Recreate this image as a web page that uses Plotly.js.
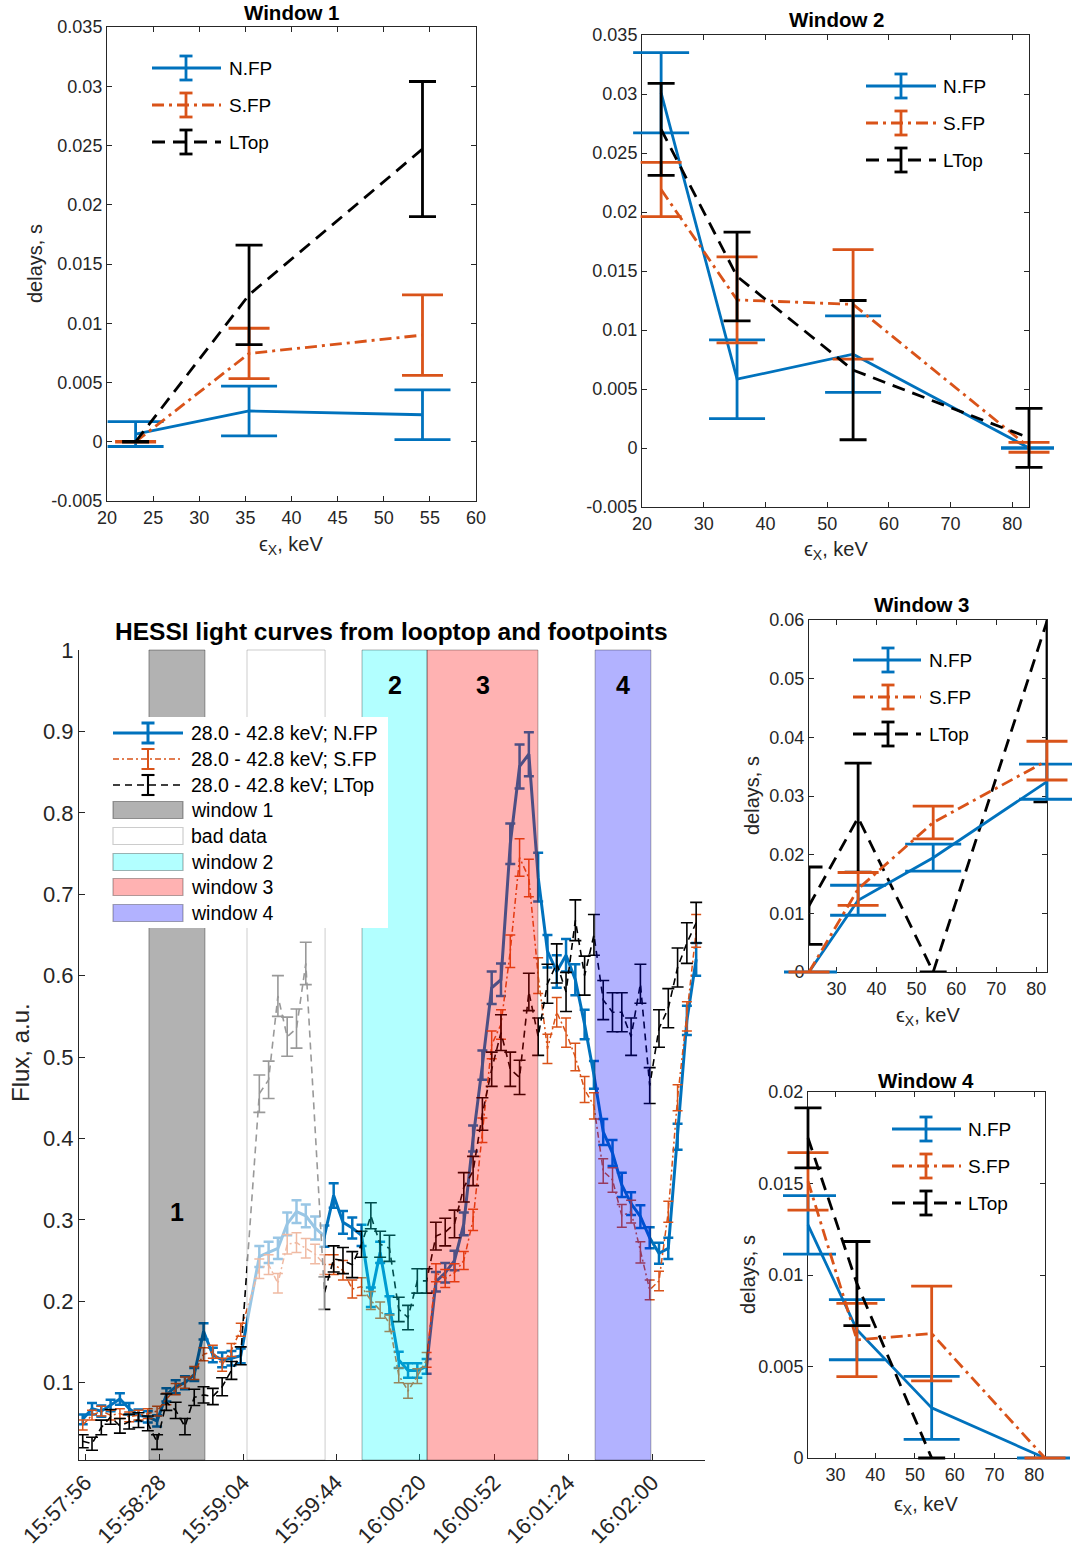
<!DOCTYPE html>
<html>
<head>
<meta charset="utf-8">
<script src="https://cdn.plot.ly/plotly-3.0.1.min.js"></script>
<style>
  html, body { margin: 0; padding: 0; background: #ffffff; }
  #chart { width: 1075px; height: 1548px; }
</style>
</head>
<body>
<div id="chart"></div>
<script>
// ---------------- delay spectra (seconds) per energy band ----------------
const energies = [23.1, 35.4, 54.2, 82.7];

const w1NFP     = [0.00065, 0.0026, 0.00228];
const w1NFPErr  = [0.00105, 0.0021, 0.0021];
const w1SFP     = [0, 0.00745, 0.0090];
const w1SFPErr  = [0.00002, 0.00213, 0.0034];
const w1LTop    = [0, 0.0124, 0.0247];
const w1LTopErr = [0.00002, 0.0042, 0.0057];

const w2NFP     = [0.0301, 0.00583, 0.00795, 0];
const w2NFPErr  = [0.0034, 0.00334, 0.00324, 0.00002];
const w2SFP     = [0.0219, 0.01255, 0.01217, 0.00006];
const w2SFPErr  = [0.0023, 0.00364, 0.00464, 0.00042];
const w2LTop    = [0.0270, 0.01454, 0.0066, 0.00086];
const w2LTopErr = [0.0039, 0.00376, 0.0059, 0.0025];

const w3NFP     = [0, 0.01223, 0.01948, 0.03245];
const w3NFPErr  = [0.00002, 0.00256, 0.0023, 0.0030];
const w3SFP     = [0, 0.01416, 0.02548, 0.03603];
const w3SFPErr  = [0.00002, 0.0028, 0.0028, 0.0033];
const w3LTop    = [0.0113, 0.0263, 0, 0.0598];
const w3LTopErr = [0.0066, 0.0093, 0.00002, 0.0308];

const w4NFP     = [0.01274, 0.00701, 0.00274, 0];
const w4NFPErr  = [0.0016, 0.00164, 0.00172, 0.00001];
const w4SFP     = [0.01512, 0.00645, 0.0068, 0];
const w4SFPErr  = [0.00157, 0.0020, 0.00259, 0.00001];
const w4LTop    = [0.01749, 0.00953, 0, null];
const w4LTopErr = [0.00164, 0.0023, 0.00001, null];

// ---------------- HESSI light curves, 28.0 - 42.8 keV ----------------
const times = [
  '15:57:55','15:57:59','15:58:03','15:58:07','15:58:11','15:58:15','15:58:19','15:58:23','15:58:27','15:58:31',
  '15:58:35','15:58:39','15:58:43','15:58:47','15:58:51','15:58:55','15:58:59','15:59:03','15:59:07','15:59:11',
  '15:59:15','15:59:19','15:59:23','15:59:27','15:59:31','15:59:35','15:59:39','15:59:43','15:59:47','15:59:51',
  '15:59:55','15:59:59','16:00:03','16:00:07','16:00:11','16:00:15','16:00:19','16:00:23','16:00:27','16:00:31',
  '16:00:35','16:00:39','16:00:43','16:00:47','16:00:51','16:00:55','16:00:59','16:01:03','16:01:07','16:01:11',
  '16:01:15','16:01:19','16:01:23','16:01:27','16:01:31','16:01:35','16:01:39','16:01:43','16:01:47','16:01:51',
  '16:01:55','16:01:59','16:02:03','16:02:07','16:02:11','16:02:15','16:02:19'
];
const fluxNFP = [
  0.055,0.068,0.065,0.072,0.080,0.068,0.060,0.058,0.053,0.085,
  0.095,0.100,0.110,0.163,0.134,0.128,0.130,0.133,null,0.255,
  0.260,0.265,0.295,0.310,0.305,0.290,0.280,0.330,0.297,0.290,
  0.281,0.205,0.260,0.195,0.128,0.115,0.115,0.120,0.224,0.235,
  0.250,0.295,0.400,0.490,0.585,0.595,0.762,0.857,0.872,0.721,
  0.630,0.605,0.625,0.595,0.540,0.478,0.408,0.382,0.343,0.320,
  0.304,0.278,0.259,0.265,0.402,0.545,0.620
];
const fluxNFPErr = [
  0.006,0.007,0.007,0.007,0.007,0.007,0.007,0.007,0.007,0.008,
  0.008,0.008,0.008,0.010,0.009,0.009,0.009,0.009,null,0.013,
  0.013,0.013,0.014,0.014,0.014,0.014,0.013,0.015,0.014,0.013,
  0.013,0.012,0.013,0.011,0.010,0.009,0.009,0.009,0.012,0.012,
  0.012,0.014,0.016,0.018,0.020,0.020,0.025,0.027,0.027,0.030,
  0.020,0.020,0.020,0.019,0.018,0.017,0.016,0.016,0.015,0.014,
  0.014,0.013,0.013,0.013,0.016,0.018,0.020
];
const fluxSFP = [
  0.048,0.060,0.065,0.060,0.062,0.058,0.060,0.062,0.065,0.080,
  0.092,0.100,0.112,0.135,0.138,0.122,0.140,0.165,null,0.240,
  0.245,0.222,0.270,0.272,0.265,0.258,0.245,0.245,0.238,0.215,
  0.218,0.201,0.189,0.173,0.109,0.090,0.108,0.128,0.235,0.228,
  0.235,0.250,0.300,0.410,0.515,0.540,0.630,0.745,0.720,0.600,
  0.510,0.555,0.530,0.500,0.460,0.440,0.360,0.349,0.305,0.310,
  0.260,0.214,0.225,0.310,0.450,0.550,0.655
];
const fluxSFPErr = [
  0.006,0.006,0.006,0.006,0.006,0.006,0.006,0.006,0.006,0.007,
  0.007,0.007,0.008,0.008,0.008,0.008,0.008,0.008,null,0.012,
  0.012,0.012,0.012,0.012,0.012,0.012,0.012,0.012,0.012,0.011,
  0.011,0.011,0.010,0.010,0.009,0.009,0.009,0.009,0.011,0.011,
  0.011,0.011,0.013,0.015,0.017,0.018,0.020,0.023,0.023,0.022,
  0.018,0.018,0.018,0.017,0.016,0.016,0.015,0.015,0.014,0.014,
  0.013,0.012,0.012,0.013,0.016,0.018,0.020
];
const fluxLTop = [
  0.028,0.025,0.045,0.058,0.047,0.052,0.054,0.050,0.027,0.076,
  0.066,0.046,0.082,0.085,0.083,0.095,0.115,0.133,null,0.455,
  0.472,0.575,0.525,0.535,0.615,null,0.210,0.252,0.250,0.245,
  0.270,0.305,0.270,0.265,0.190,0.180,0.225,0.225,0.280,0.285,
  0.295,0.340,0.360,0.430,0.485,0.530,0.485,0.475,0.580,0.525,
  0.590,0.615,0.580,0.668,0.600,0.650,0.570,0.555,0.555,0.525,
  0.590,0.465,0.535,0.560,0.610,0.640,0.665
];
const fluxLTopErr = [
  0.008,0.008,0.009,0.009,0.009,0.009,0.009,0.009,0.009,0.010,
  0.010,0.010,0.010,0.010,0.010,0.011,0.011,0.011,null,0.023,
  0.023,0.025,0.024,0.024,0.026,null,0.020,0.016,0.016,0.016,
  0.016,0.016,0.016,0.016,0.015,0.015,0.015,0.015,0.017,0.017,
  0.017,0.018,0.018,0.020,0.021,0.022,0.021,0.021,0.023,0.023,
  0.024,0.024,0.024,0.025,0.024,0.025,0.024,0.024,0.024,0.023,
  0.024,0.022,0.023,0.024,0.024,0.025,0.025
];
const seriesLabels = ['28.0 - 42.8 keV; N.FP', '28.0 - 42.8 keV; S.FP', '28.0 - 42.8 keV; LTop'];

// time intervals used for the delay analysis
const windowNames  = ['window 1', 'bad data', 'window 2', 'window 3', 'window 4'];
const windowTags   = ['1', '', '2', '3', '4'];
const windowStart  = ['15:58:23.5', '15:59:05.7', '15:59:55.2', '16:00:23.2', '16:01:35.5'];
const windowEnd    = ['15:58:47.6', '15:59:39.3', '16:00:23.2', '16:01:10.9', '16:01:59.5'];

const timeTicks = ['15:57:56', '15:58:28', '15:59:04', '15:59:44', '16:00:20', '16:00:52', '16:01:24', '16:02:00'];
const timeRange = ['15:57:53.4', '16:02:22.8'];

// ---------------- helpers ----------------
const FONT = 'Liberation Sans, Arial, Helvetica, sans-serif';
const INK = '#262626';
const W = 1075, H = 1548;
const X = p => p / W;          // page pixel -> paper x
const Y = p => 1 - p / H;      // page pixel -> paper y
const secs = s => { const [h, m, sec] = s.split(':'); return (+h) * 3600 + (+m) * 60 + parseFloat(sec); };

const shapes = [];
const annotations = [];

function seg(x0, y0, x1, y1, color, width, dash) {
  shapes.push({ type: 'line', xref: 'paper', yref: 'paper', layer: 'above',
    x0: X(x0), y0: Y(y0), x1: X(x1), y1: Y(y1),
    line: { color: color, width: width, dash: dash || 'solid' } });
}
function box(x0, y0, x1, y1, fill, edge, ew) {
  shapes.push({ type: 'rect', xref: 'paper', yref: 'paper', layer: 'above',
    x0: X(x0), y0: Y(y1), x1: X(x1), y1: Y(y0),
    fillcolor: fill, line: { color: edge, width: ew } });
}
function label(x, y, str, size, extra) {
  annotations.push(Object.assign({ xref: 'paper', yref: 'paper', x: X(x), y: Y(y), text: str,
    showarrow: false, xanchor: 'center', yanchor: 'middle',
    font: { family: FONT, size: size, color: INK } }, extra || {}));
}
function errGlyph(xc, y, half, cap, color, width) {
  seg(xc, y - half, xc, y + half, color, width);
  seg(xc - cap, y - half, xc + cap, y - half, color, width);
  seg(xc - cap, y + half, xc + cap, y + half, color, width);
}

// ---------------- axes ----------------
function boxAxis(extra) {
  return Object.assign({ showline: true, mirror: 'ticks', linecolor: INK, linewidth: 1,
    ticks: 'inside', ticklen: 5, tickwidth: 1, tickcolor: INK,
    showgrid: false, zeroline: false, fixedrange: true,
    tickfont: { family: FONT, size: 18, color: INK } }, extra);
}
const num = v => String(v);

const w1x = [20, 25, 30, 35, 40, 45, 50, 55, 60];
const w2x = [20, 30, 40, 50, 60, 70, 80];
const w34x = [30, 40, 50, 60, 70, 80];
const w12y = [-0.005, 0, 0.005, 0.01, 0.015, 0.02, 0.025, 0.03, 0.035];
const w3y = [0, 0.01, 0.02, 0.03, 0.04, 0.05, 0.06];
const w4y = [0, 0.005, 0.01, 0.015, 0.02];
const fluxTicks = [0.1, 0.2, 0.3, 0.4, 0.5, 0.6, 0.7, 0.8, 0.9, 1];

// delay panels: page-pixel box [left, right, top, bottom], axis ranges, ticks
const panels = [
  { id: '',  box: [107, 476, 27, 501],   xr: [20, 60],     yr: [-0.005, 0.035], xt: w1x,  yt: w12y },
  { id: '2', box: [642, 1029, 35, 507],  xr: [20, 82.7],   yr: [-0.005, 0.035], xt: w2x,  yt: w12y },
  { id: '4', box: [809, 1047, 620, 972], xr: [23.1, 82.7], yr: [0, 0.06],       xt: w34x, yt: w3y },
  { id: '5', box: [808, 1045, 1092, 1458], xr: [23.1, 82.7], yr: [0, 0.02],     xt: w34x, yt: w4y }
];
const overlayIds = ['6', '7', '8', '9'];
const PAD = 25;   // room for error-bar caps that stick out of a panel

const layout = {
  width: W, height: H, margin: { l: 0, r: 0, t: 0, b: 0 },
  paper_bgcolor: '#ffffff', plot_bgcolor: 'rgba(0,0,0,0)', showlegend: false,
  font: { family: FONT, color: INK },
  xaxis3: { domain: [X(79), X(705)], range: timeRange.map(secs), anchor: 'y3',
    tickvals: timeTicks.map(secs), ticktext: timeTicks, tickangle: -45,
    showline: true, mirror: false, linecolor: INK, linewidth: 1, ticks: 'inside', ticklen: 6, tickcolor: INK,
    showgrid: false, zeroline: false, fixedrange: true,
    tickfont: { family: FONT, size: 22, color: INK } },
  yaxis3: { domain: [Y(1460), Y(650)], range: [0.005, 1], anchor: 'x3',
    tickvals: fluxTicks, ticktext: fluxTicks.map(num),
    showline: true, mirror: false, linecolor: INK, linewidth: 1, ticks: 'inside', ticklen: 6, tickcolor: INK,
    showgrid: false, zeroline: false, fixedrange: true,
    tickfont: { family: FONT, size: 22, color: INK } },
  shapes: shapes,
  annotations: annotations
};

panels.forEach((p, k) => {
  const [l, r, t, b] = p.box;
  layout['xaxis' + p.id] = boxAxis({ domain: [X(l), X(r)], range: p.xr, tickvals: p.xt, ticktext: p.xt.map(num), anchor: 'y' + p.id });
  layout['yaxis' + p.id] = boxAxis({ domain: [Y(b), Y(t)], range: p.yr, tickvals: p.yt, ticktext: p.yt.map(num), anchor: 'x' + p.id });
  // same scale, slightly larger box, axes hidden
  const o = overlayIds[k];
  const sx = (p.xr[1] - p.xr[0]) / (r - l), sy = (p.yr[1] - p.yr[0]) / (b - t);
  layout['xaxis' + o] = { domain: [X(l - PAD), X(r + PAD)], range: [p.xr[0] - PAD * sx, p.xr[1] + PAD * sx],
    visible: false, fixedrange: true, anchor: 'y' + o };
  layout['yaxis' + o] = { domain: [Y(b + PAD), Y(t - PAD)], range: [p.yr[0] - PAD * sy, p.yr[1] + PAD * sy],
    visible: false, fixedrange: true, anchor: 'x' + o };
});

// ---------------- delay panel traces ----------------
const PLW = 2.8;
const winStyle = [
  { name: 'N.FP', color: '#0072BD', dash: 'solid',            cap: 28 },
  { name: 'S.FP', color: '#D95319', dash: '12px,5px,3px,5px', cap: 20.5 },
  { name: 'LTop', color: '#000000', dash: '13px,8px',         cap: 13.5 }
];

const traces = [];
function panelTraces(k, xs, ys, errs, clipped) {
  const p = panels[k], o = overlayIds[k];
  // keep the framed subplot alive
  traces.push({ type: 'scatter', mode: 'lines', x: [], y: [], xaxis: 'x' + p.id, yaxis: 'y' + p.id, hoverinfo: 'skip', showlegend: false });
  ys.forEach((y, i) => {
    const inFrame = clipped && clipped[i];
    traces.push({
      type: 'scatter', mode: 'lines', x: xs, y: y,
      xaxis: 'x' + (inFrame ? p.id : o), yaxis: 'y' + (inFrame ? p.id : o),
      line: { color: winStyle[i].color, width: PLW, dash: winStyle[i].dash },
      error_y: { type: 'data', array: errs[i], visible: true, color: winStyle[i].color,
                 thickness: PLW, width: winStyle[i].cap },
      hoverinfo: 'skip', showlegend: false, name: winStyle[i].name
    });
  });
}
function panelLegend(rows, lx0, lx1, gx, tx) {
  winStyle.forEach((s, i) => {
    seg(lx0, rows[i], lx1, rows[i], s.color, PLW, s.dash);
    errGlyph(gx, rows[i], 12, 6.5, s.color, PLW);
    label(tx, rows[i], s.name, 19, { xanchor: 'left', font: { family: FONT, size: 19, color: '#000' } });
  });
}

panelTraces(0, energies.slice(0, 3), [w1NFP, w1SFP, w1LTop], [w1NFPErr, w1SFPErr, w1LTopErr]);
panelTraces(1, energies, [w2NFP, w2SFP, w2LTop], [w2NFPErr, w2SFPErr, w2LTopErr]);
panelTraces(2, energies, [w3NFP, w3SFP, w3LTop], [w3NFPErr, w3SFPErr, w3LTopErr], [false, false, true]);
panelTraces(3, energies, [w4NFP, w4SFP, w4LTop], [w4NFPErr, w4SFPErr, w4LTopErr]);

// ---------------- light-curve panel ----------------
const tSec = times.map(secs);
const curveStyle = [
  { color: '#0072BD', dash: 'solid',           lw: 3,   ew: 2.5, cap: 5 },
  { color: '#D95319', dash: '6px,3px,2px,3px', lw: 1.5, ew: 1.5, cap: 5 },
  { color: '#000000', dash: '7px,5px',         lw: 1.6, ew: 1.6, cap: 6 }
];
[[fluxNFP, fluxNFPErr], [fluxSFP, fluxSFPErr], [fluxLTop, fluxLTopErr]].forEach((d, i) => {
  const s = curveStyle[i];
  traces.push({
    type: 'scatter', mode: 'lines', x: tSec, y: d[0], xaxis: 'x3', yaxis: 'y3',
    line: { color: s.color, width: s.lw, dash: s.dash },
    error_y: { type: 'data', array: d[1], visible: true, color: s.color, thickness: s.ew, width: s.cap },
    connectgaps: true, hoverinfo: 'skip', showlegend: false, name: seriesLabels[i]
  });
});

// translucent analysis windows drawn over the curves
const windowFill = ['rgba(0,0,0,0.3)', 'rgba(255,255,255,0.6)', 'rgba(0,255,255,0.3)', 'rgba(255,0,0,0.3)', 'rgba(0,0,255,0.3)'];
const windowEdge = ['rgba(0,0,0,0.35)', 'rgba(0,0,0,0.2)', 'rgba(0,0,0,0.3)', 'rgba(0,0,0,0.3)', 'rgba(0,0,0,0.3)'];
windowNames.forEach((n, i) => {
  shapes.push({ type: 'rect', xref: 'x3', yref: 'y3 domain', layer: 'above',
    x0: secs(windowStart[i]), x1: secs(windowEnd[i]), y0: 0, y1: 1,
    fillcolor: windowFill[i], line: { color: windowEdge[i], width: 1 } });
  if (windowTags[i]) {
    annotations.push({ xref: 'x3', yref: 'y3', showarrow: false,
      x: (secs(windowStart[i]) + secs(windowEnd[i])) / 2, y: i === 0 ? 0.31 : 0.957,
      text: '<b>' + windowTags[i] + '</b>', font: { family: FONT, size: 25, color: '#000' } });
  }
});

// light-curve legend
box(105, 717, 388, 928, '#ffffff', 'rgba(0,0,0,0)', 0);
const lgRows = [733, 759, 785, 810, 836, 862, 887, 913];
curveStyle.forEach((s, i) => {
  seg(113, lgRows[i], 183, lgRows[i], s.color, s.lw, s.dash);
  errGlyph(148, lgRows[i], 10, 6.5, s.color, s.ew + 0.5);
  label(189, lgRows[i], seriesLabels[i], 19.5, { xanchor: 'left', font: { family: FONT, size: 19.5, color: '#000' } });
});
windowNames.forEach((n, i) => {
  const r = lgRows[i + 3];
  box(113, r - 8.5, 183, r + 8.5, windowFill[i], windowEdge[i], 1.2);
  label(189, r, n, 19.5, { xanchor: 'left', font: { family: FONT, size: 19.5, color: '#000' } });
});

// delay panel legends
panelLegend([68, 105, 142], 152, 221, 186, 227);
panelLegend([86, 123, 160], 866, 936, 901, 941);
panelLegend([660, 697, 734], 853, 921, 888, 927);
panelLegend([1129, 1166, 1203], 892, 961, 926, 966);

// titles and axis labels
const bold = (s) => '<b>' + s + '</b>';
const titleFont = (sz) => ({ font: { family: FONT, size: sz, color: '#000' } });
label(291, 12, bold('Window 1'), 20.5, titleFont(20.5));
label(836, 20, bold('Window 2'), 20.5, titleFont(20.5));
label(921, 604, bold('Window 3'), 20.5, titleFont(20.5));
label(926, 1080, bold('Window 4'), 20.5, titleFont(20.5));
label(391, 631, bold('HESSI light curves from looptop and footpoints'), 24.5, titleFont(24.5));

const exLabel = 'ϵ<sub>X</sub>, keV';
label(291, 545, exLabel, 20);
label(836, 550, exLabel, 20);
label(928, 1016, exLabel, 20);
label(926, 1505, exLabel, 20);
label(35, 264, 'delays, s', 20, { textangle: -90 });
label(752, 796, 'delays, s', 20, { textangle: -90 });
label(748, 1275, 'delays, s', 20, { textangle: -90 });
label(20, 1053, 'Flux, a.u.', 24, { textangle: -90 });

Plotly.newPlot('chart', traces, layout, { staticPlot: true, displayModeBar: false });
</script>
</body>
</html>
